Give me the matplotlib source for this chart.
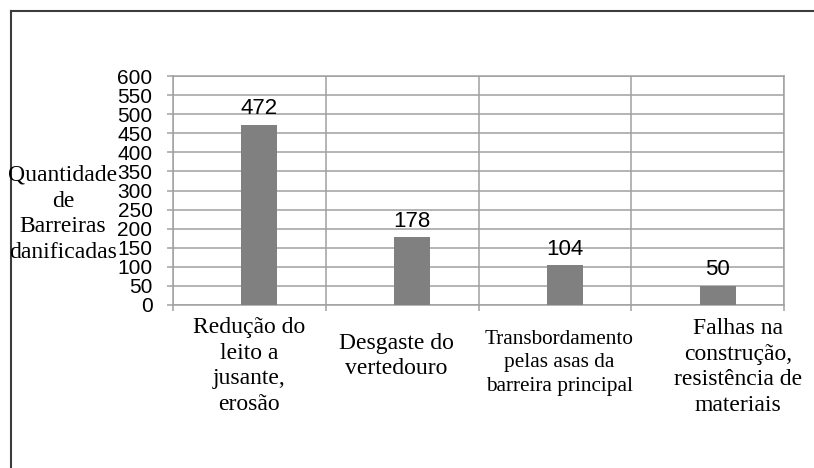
import matplotlib
matplotlib.use("Agg")
import matplotlib.pyplot as plt
import matplotlib.transforms as mtransforms
from matplotlib.lines import Line2D
import numpy as np

# data
categorias = [
    "Redução do\nleito a\njusante,\nerosão",
    "Desgaste do\nvertedouro",
    "Transbordamento\npelas asas da\nbarreira principal",
    "Falhas na\nconstrução,\nresistência de\nmateriais",
]
quantidades = [472, 178, 104, 50]
y_ticks = list(range(0, 601, 50))
y_label = "Quantidade\nde\nBarreiras\ndanificadas"

# layout of the category labels (x shift in category units, y centre in px, font size)
label_dx = [0.0, -0.04, 0.03, 0.2]
label_y = [366, 356, 363, 367]
label_size = [17, 17, 15.3, 17]

serif = ["Liberation Serif", "DejaVu Serif"]
narrow = ["Liberation Sans Narrow", "Liberation Sans", "DejaVu Sans"]
grid_color = "#a0a0a0"

fig = plt.figure(figsize=(8.14, 4.68), dpi=100)
ax = fig.add_axes([173 / 814, 1 - 305 / 468, 611 / 814, 229 / 468])

x = np.arange(len(quantidades))
bars = ax.bar(x + 0.066, quantidades, width=0.236, color="#808080", zorder=3)

ax.set_xlim(-0.5, len(quantidades) - 0.5)
ax.set_ylim(0, 600)

# grid: horizontal at each tick, vertical at category boundaries
ax.set_yticks(y_ticks)
ax.set_yticklabels([str(v) for v in y_ticks], family=narrow, fontsize=15)
ax.set_xticks(np.arange(-0.5, len(quantidades)))
ax.set_xticklabels([])
ax.grid(True, color=grid_color, linewidth=1.1, zorder=0)
ax.tick_params(axis="y", length=4.3, width=1.1, color=grid_color, pad=10.5)
ax.tick_params(axis="x", length=4.5, width=1.1, color=grid_color)
for sp in ax.spines.values():
    sp.set_color(grid_color)
    sp.set_linewidth(1.1)

# values above the bars
for b, v in zip(bars, quantidades):
    ax.annotate(str(v), (b.get_x() + b.get_width() / 2, v), xytext=(0, 4),
                textcoords="offset points", ha="center", va="bottom",
                family=narrow, fontsize=16)

# category labels under the axis
lab_tr = mtransforms.blended_transform_factory(ax.transData, fig.transFigure)
for i, lab in enumerate(categorias):
    ax.text(x[i] + label_dx[i], 1 - label_y[i] / 468, lab, transform=lab_tr,
            ha="center", va="center", multialignment="center",
            family=serif, fontsize=label_size[i], linespacing=1.3)

fig.text(63 / 814, 1 - 214 / 468, y_label, ha="center", va="center",
         multialignment="center", family=serif, fontsize=17, linespacing=1.3)

# frame around the chart (only left and top edges visible)
fig.add_artist(Line2D([11 / 814, 11 / 814], [0, 1 - 11 / 468],
                      transform=fig.transFigure, color="#3c3c3c", linewidth=1.5))
fig.add_artist(Line2D([11 / 814, 1], [1 - 11 / 468, 1 - 11 / 468],
                      transform=fig.transFigure, color="#3c3c3c", linewidth=1.5))

fig.savefig("out.png", dpi=100)
